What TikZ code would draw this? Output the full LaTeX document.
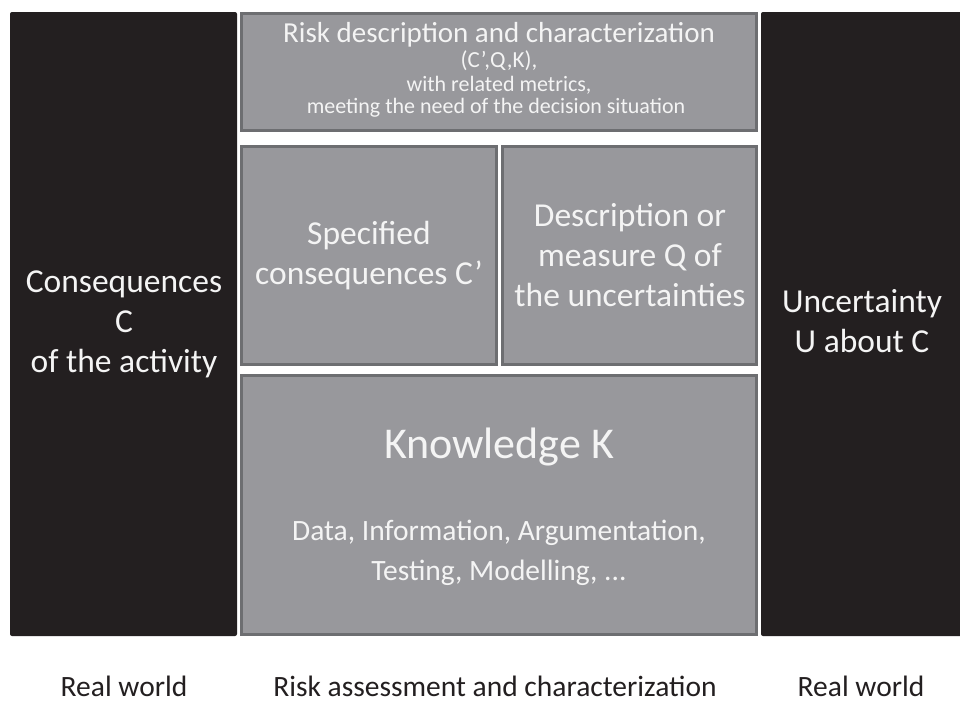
\documentclass[tikz,border=0pt]{standalone}
\usepackage{fontspec}
\setmainfont{Carlito}
\definecolor{panelblack}{HTML}{231F20}
\definecolor{boxfill}{HTML}{98989C}
\definecolor{boxedge}{HTML}{6D6E71}
\definecolor{boxtext}{HTML}{F4F4F4}
\begin{document}
\begin{tikzpicture}[x=1pt,y=-1pt,
  panel/.style={fill=panelblack,rounded corners=2pt},
  gbox/.style={fill=boxfill,draw=boxedge,line width=3pt},
  wtext/.style={text=boxtext,align=center,inner sep=0pt},
  wline/.style={text=boxtext,inner sep=0pt,anchor=base},
  btext/.style={text=panelblack,inner sep=0pt,anchor=base},
  fbig/.style={font=\fontsize{33.5}{40}\selectfont},
  fmid/.style={font=\fontsize{29.5}{40}\selectfont},
]
\useasboundingbox[fill=white] (0,0) rectangle (960,702);
% black panels
\fill[panel] (10,12) rectangle (237,636);
\fill[panel] (761,12) rectangle (962,636);
% gray boxes
\draw[gbox] (241.5,13.5) rectangle (756.5,130.5);
\draw[gbox] (241.5,146.5) rectangle (496.5,364.5);
\draw[gbox] (502.5,146.5) rectangle (756.5,364.5);
\draw[gbox] (241.5,375.5) rectangle (756.5,634.5);
% top box text
\node[wline,font=\fontsize{29}{34}\selectfont] (title) at (499,42) {Risk description and characterization};
\node[wline,font=\fontsize{23}{26}\selectfont] (cqk) at (499,67) {(C’,Q,K),};
\node[wline,font=\fontsize{22}{26}\selectfont] (metrics) at (499,91) {with related metrics,};
\node[wline,font=\fontsize{22}{26}\selectfont] (meeting) at (496,113) {meeting the need of the decision situation};
% middle boxes
\node[wtext,fbig] (spec) at (369,256) {Specified\\consequences C’};
\node[wtext,fbig] (desc) at (630,255) {Description or\\measure Q of\\the uncertainties};
% knowledge
\node[wtext,font=\fontsize{44}{50}\selectfont] (know) at (499,447) {Knowledge K};
\node[wtext,fmid] (data) at (499,553) {Data, Information, Argumentation,\\Testing, Modelling, ...};
% side panels
\node[wtext,fbig] (cons) at (124,324) {Consequences\\C\\of the activity};
\node[wtext,fbig] (unc) at (862,321.5) {Uncertainty\\U about C};
% bottom labels
\node[btext,fmid] (rw1) at (124,696) {Real world};
\node[btext,fmid] (rac) at (495,696) {Risk assessment and characterization};
\node[btext,fmid] (rw2) at (861,696) {Real world};
\end{tikzpicture}
\end{document}
